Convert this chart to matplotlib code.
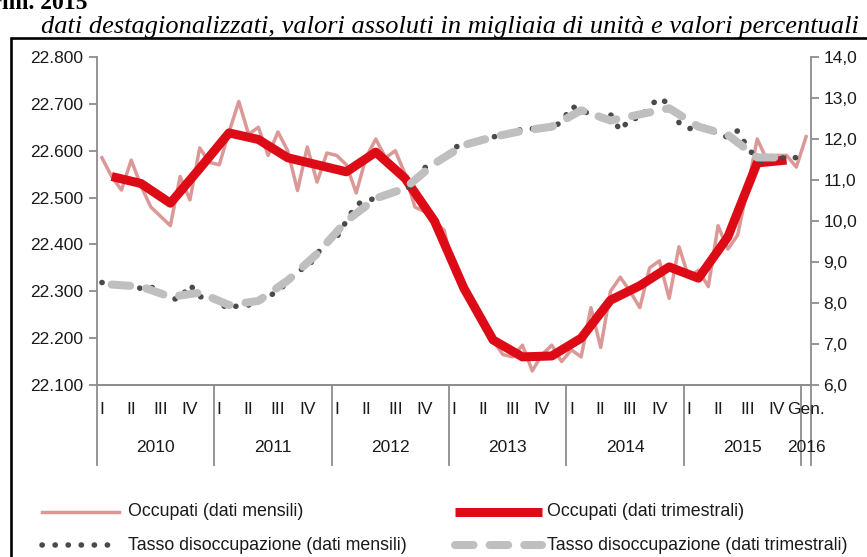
import numpy as np
import matplotlib.pyplot as plt
from matplotlib.ticker import FuncFormatter

### Data ---------------------------------------------------------------------------------------------------------------

# Occupati (migliaia), dati mensili gen 2010 - gen 2016
occMensili = [22585, 22545, 22516, 22580, 22525, 22480, 22460, 22440, 22545, 22495, 22606, 22575,
              22570, 22640, 22705, 22635, 22650, 22590, 22640, 22600, 22515, 22608, 22533, 22595,
              22590, 22570, 22510, 22585, 22625, 22585, 22600, 22550, 22480, 22470, 22450, 22430,
              22340, 22305, 22270, 22230, 22195, 22165, 22160, 22185, 22130, 22165, 22185, 22150,
              22175, 22160, 22265, 22180, 22300, 22330, 22300, 22265, 22350, 22365, 22285, 22395,
              22330, 22345, 22310, 22440, 22390, 22420, 22520, 22625, 22580, 22590, 22590, 22565,
              22630]

# Occupati (migliaia), dati trimestrali I 2010 - IV 2015
occTrimestrali = [22545, 22530, 22488, 22562,
                  22638, 22624, 22585, 22570,
                  22555, 22597, 22541, 22450,
                  22307, 22196, 22160, 22162,
                  22200, 22281, 22312, 22352,
                  22328, 22416, 22574, 22580]

# Tasso di disoccupazione (%), dati mensili
disoccMensili = [8.50, 8.45, 8.40, 8.45, 8.35, 8.40, 8.25, 8.10, 8.10, 8.45, 8.15, 8.15,
                 8.00, 7.85, 7.95, 7.95, 8.05, 8.15, 8.30, 8.50, 8.80, 8.85, 9.20, 9.50,
                 9.60, 10.00, 10.40, 10.50, 10.55, 10.65, 10.70, 10.75, 10.95, 11.30, 11.40, 11.50,
                 11.80, 11.85, 11.95, 12.00, 12.05, 12.10, 12.15, 12.25, 12.25, 12.30, 12.30, 12.40,
                 12.80, 12.70, 12.60, 12.55, 12.60, 12.20, 12.50, 12.50, 12.80, 13.00, 12.85, 12.40,
                 12.25, 12.30, 12.30, 12.10, 12.05, 12.20, 11.80, 11.50, 11.40, 11.60, 11.50, 11.55,
                 11.55]

# Tasso di disoccupazione (%), dati trimestrali
disoccTrimestrali = [8.45, 8.40, 8.15, 8.25,
                     7.95, 8.05, 8.55, 9.20,
                     10.00, 10.55, 10.80, 11.40,
                     11.85, 12.05, 12.20, 12.30,
                     12.70, 12.45, 12.60, 12.75,
                     12.30, 12.10, 11.55, 11.55]

anni = ['2010', '2011', '2012', '2013', '2014', '2015', '2016']
trimestri = ['I', 'II', 'III', 'IV']
meseGen = 'Gen.'

legendLabels = ['Occupati (dati mensili)', 'Occupati (dati trimestrali)',
                'Tasso disoccupazione (dati mensili)', 'Tasso disoccupazione (dati trimestrali)']

### Styles -------------------------------------------------------------------------------------------------------------

W, H = 867, 557
pinkColor = '#dc9896'
redColor = '#dc0b16'
greyDash = '#bfbfbf'
darkDot = '#4a4a4a'
axisColor = '#8c8c8c'
textColor = '#1a1a1a'
sansFont = ['Liberation Sans', 'DejaVu Sans']
serifFont = ['Liberation Serif', 'DejaVu Serif']

plt.rcParams['font.family'] = sansFont

pinkStyle = dict(color=pinkColor, lw=2.5, solid_joinstyle='round')
redStyle = dict(color=redColor, lw=6.5, solid_joinstyle='round', solid_capstyle='butt')
dotStyle = dict(color=darkDot, lw=4.0, dashes=(0.05, 2.3), dash_capstyle='round')
dashStyle = dict(color=greyDash, lw=5.8, dashes=(2.3, 2.0), dash_capstyle='round')

### Figure -------------------------------------------------------------------------------------------------------------

fig = plt.figure(figsize=(W / 100, H / 100), dpi=100)

left, right, top, bottom = 97, 811, 57, 385
ax = fig.add_axes([left / W, 1 - bottom / H, (right - left) / W, (bottom - top) / H])
ax2 = ax.twinx()

xm = np.arange(len(occMensili))
xq = np.arange(len(occTrimestrali)) * 3 + 1

ax.plot(xm, occMensili, **pinkStyle)
ax.plot(xq, occTrimestrali, **redStyle)
ax2.plot(xm, disoccMensili, **dotStyle)
ax2.plot(xq, disoccTrimestrali, **dashStyle)

ax.set_xlim(-0.5, len(occMensili) - 0.5)
ax.set_ylim(22100, 22800)
ax.set_yticks(np.arange(22100, 22801, 100))
ax.yaxis.set_major_formatter(FuncFormatter(lambda v, p: '{:,.0f}'.format(v).replace(',', '.')))
ax2.set_ylim(6, 14)
ax2.set_yticks(np.arange(6, 15, 1))
ax2.yaxis.set_major_formatter(FuncFormatter(lambda v, p: '{:.1f}'.format(v).replace('.', ',')))

for a in (ax, ax2):
    a.set_xticks([])
    a.spines['top'].set_visible(False)
    for s in ('left', 'right', 'bottom'):
        a.spines[s].set_color(axisColor)
        a.spines[s].set_linewidth(1.3)
    a.tick_params(axis='y', direction='out', length=6, width=1.3, color=axisColor,
                  labelsize=12.5, labelcolor=textColor)
ax.tick_params(axis='y', pad=4)
ax2.tick_params(axis='y', pad=3)
ax.spines['right'].set_visible(False)
ax2.spines['left'].set_visible(False)

# Category axis: year separators, quarter labels and year labels
tx = ax.get_xaxis_transform()
nYears = len(anni) - 1
sepLow = -80 / (bottom - top)
for i in range(nYears + 1):
    ax.plot([12 * i - 0.5] * 2, [0, sepLow], transform=tx, color=axisColor, lw=1.3, clip_on=False)
ax.plot([len(occMensili) - 0.5] * 2, [0, sepLow], transform=tx, color=axisColor, lw=1.3, clip_on=False)

qY = -25 / (bottom - top)
yY = -63 / (bottom - top)
for i in range(nYears):
    for q, lab in enumerate(trimestri):
        ax.text(12 * i + 3 * q, qY, lab, transform=tx, ha='center', va='center', fontsize=12.5,
                color=textColor)
    ax.text(12 * i + 5.5, yY, anni[i], transform=tx, ha='center', va='center', fontsize=12.5,
            color=textColor)
ax.text(12 * nYears, qY, meseGen, transform=tx, ha='center', va='center', fontsize=12.5, color=textColor)
ax.text(12 * nYears, yY, anni[-1], transform=tx, ha='center', va='center', fontsize=12.5, color=textColor)

### Overlay: frame, titles and legend (pixel coordinates) ---------------------------------------------------------------

ov = fig.add_axes([0, 0, 1, 1])
ov.set_xlim(0, W)
ov.set_ylim(H, 0)
ov.axis('off')

ov.plot([11, 11, W + 5], [H + 5, 37.5, 37.5], color='black', lw=1.9, solid_joinstyle='miter')

ov.text(88, 9, 'IV trim. 2015', ha='right', va='baseline', fontsize=17, fontweight='bold',
        family=serifFont)
ov.text(859, 33, 'dati destagionalizzati, valori assoluti in migliaia di unità e valori percentuali',
        ha='right', va='baseline', fontsize=19, style='italic', family=serifFont)

legendRows = [512, 545]
legendCols = [(42, 119, 128), (455, 542, 547)]
styles = [pinkStyle, redStyle, dotStyle, dashStyle]
for k, (lab, st) in enumerate(zip(legendLabels, styles)):
    row, col = divmod(k, 2)
    x0, x1, xt = legendCols[col]
    y = legendRows[row]
    ov.plot([x0, x1], [y, y], **st)
    ov.text(xt, y, lab, ha='left', va='center', fontsize=12.8, color=textColor)

fig.savefig('out.png', dpi=100)
